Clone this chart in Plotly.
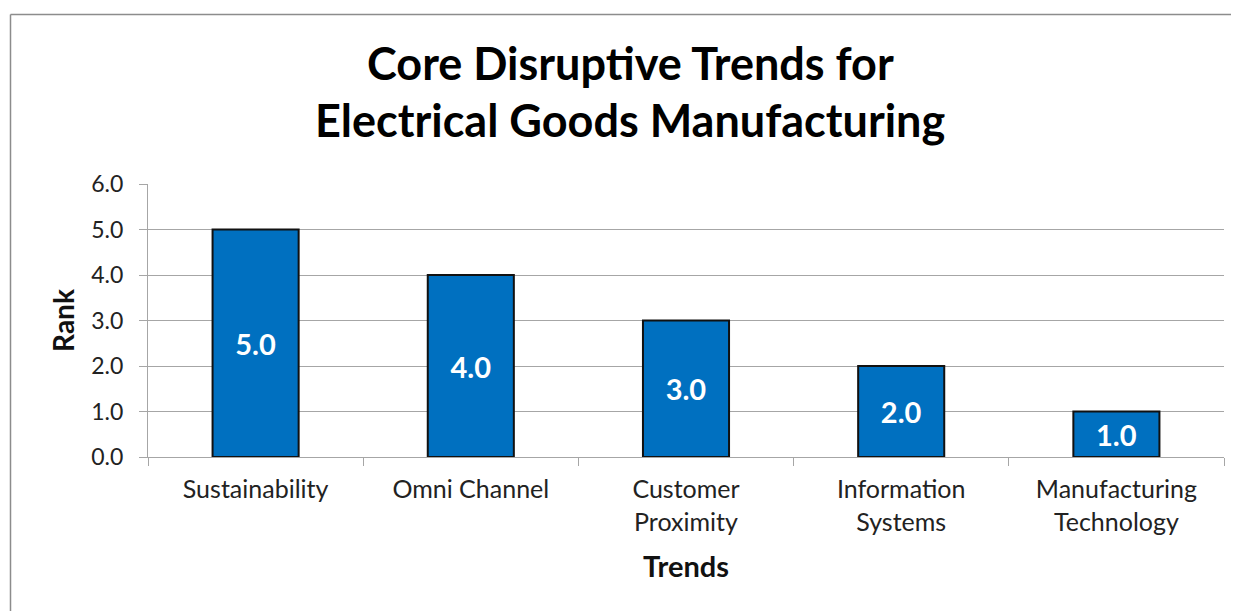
import plotly.graph_objects as go

categories = ["Sustainability", "Omni Channel", "Customer<br>Proximity",
              "Information<br>Systems", "Manufacturing<br>Technology"]
ranks = [5.0, 4.0, 3.0, 2.0, 1.0]
y_ticks = [0, 1, 2, 3, 4, 5, 6]
y_tick_labels = ["0.0", "1.0", "2.0", "3.0", "4.0", "5.0", "6.0"]
title_lines = ["Core Disruptive Trends for", "Electrical Goods Manufacturing"]

FONT = "Lato, Open Sans, sans-serif"
OFF = 8  # page body margin offset
W, H = 1239, 611
# desired absolute plot-area edges in the window
AL, AR, AT, AB = 148, 1224, 184, 457
L, T = AL - OFF, AT - OFF
R = W - (AR - OFF)
B = H - (AB - OFF)
pw, ph = W - L - R, H - T - B

def px(x):
    return (x - OFF - L) / pw

def py(y):
    return (H - B - (y - OFF)) / ph

fig = go.Figure()
fig.add_trace(go.Bar(
    x=categories, y=ranks, width=0.4,
    marker=dict(color="#0070C0", line=dict(color="#111111", width=2)),
    text=[f"{v:.1f}" for v in ranks], textposition="inside",
    insidetextanchor="middle", textangle=0,
    textfont=dict(family=FONT, size=29, color="white", weight="bold"),
    hoverinfo="skip",
))

fig.update_layout(
    width=W, height=H, margin=dict(l=L, r=R, t=T, b=B),
    paper_bgcolor="white", plot_bgcolor="white", showlegend=False,
    font=dict(family=FONT, color="#222222"),
    xaxis=dict(
        showgrid=False, showline=True, linecolor="#A6A6A6", linewidth=1,
        ticks="outside", tickson="boundaries", ticklen=8, tickcolor="#A6A6A6",
        tickfont=dict(size=25, color="#222222"), ticklabelstandoff=10,
        title=dict(text="<b>Trends</b>", font=dict(size=29, color="#111111"), standoff=22),
    ),
    yaxis=dict(
        range=[0, 6], tickvals=y_ticks, ticktext=y_tick_labels,
        showgrid=True, gridcolor="#A6A6A6", gridwidth=1,
        showline=True, linecolor="#A6A6A6", linewidth=1,
        ticks="outside", ticklen=8, tickcolor="#A6A6A6",
        tickfont=dict(size=23, color="#222222"), zeroline=False, ticklabelstandoff=11,
        title=dict(text="<b>Rank</b>", font=dict(size=28, color="#111111"), standoff=8),
    ),
)

for i, line in enumerate(title_lines):
    fig.add_annotation(
        x=px(630), y=py([63, 120][i]), xref="paper", yref="paper",
        text=f"<b>{line}</b>", showarrow=False, xanchor="center", yanchor="middle",
        font=dict(family=FONT, size=45, color="#000000"),
    )

# chart border (top and left visible)
fig.add_shape(type="line", xref="paper", yref="paper",
              x0=px(10.5), y0=py(14.5), x1=px(1260), y1=py(14.5),
              line=dict(color="#8C8C8C", width=1.5))
fig.add_shape(type="line", xref="paper", yref="paper",
              x0=px(10.5), y0=py(14.5), x1=px(10.5), y1=py(640),
              line=dict(color="#8C8C8C", width=1.5))

fig.write_html("out.html")
